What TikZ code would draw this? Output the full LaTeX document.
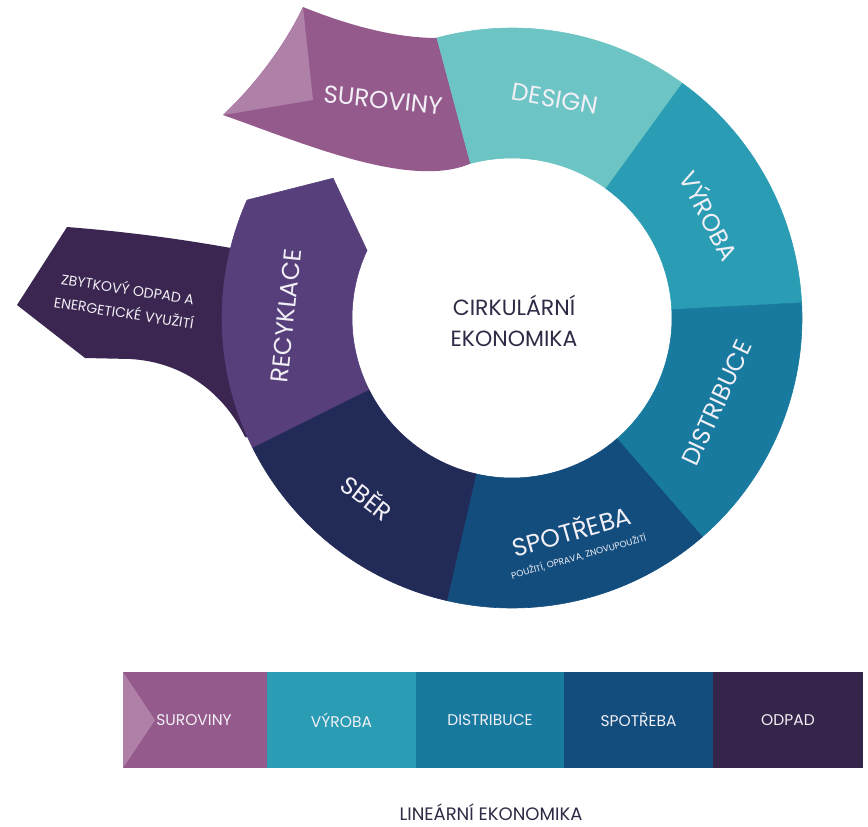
\documentclass[tikz,border=0pt]{standalone}
\usepackage{fontspec}
\setmainfont{Poppins}
\definecolor{csur}{HTML}{955A8C}
\definecolor{csurl}{HTML}{AF80A8}
\definecolor{cdes}{HTML}{6CC4C4}
\definecolor{cvyr}{HTML}{2A9DB4}
\definecolor{cdis}{HTML}{187A9F}
\definecolor{cspo}{HTML}{124D7E}
\definecolor{csbe}{HTML}{222B57}
\definecolor{crec}{HTML}{563F7B}
\definecolor{czb}{HTML}{3A2650}
\definecolor{codp}{HTML}{36254A}
\definecolor{ctxt}{HTML}{2D2B45}
\definecolor{cwh}{HTML}{F2F0F6}
\newcommand\ringseg[3]{\filldraw[#1,line width=0.6pt] (#2:290pt) arc[start angle=#2,end angle=#3,radius=290pt] -- (#3:160pt) arc[start angle=#3,end angle=#2,radius=160pt] -- cycle;}
\begin{document}
\begin{tikzpicture}[x=1pt,y=1pt,
  lbl/.style={text=cwh,font=\fontsize{24.5}{26}\selectfont,inner sep=0pt},
  small/.style={text=cwh,font=\fontsize{14}{24}\selectfont,inner sep=0pt,align=center},
  barseg/.style={minimum width=#1,minimum height=96pt,inner sep=0pt,text=cwh,font=\fontsize{15.5}{17}\selectfont},
  title/.style={text=ctxt,inner sep=0pt,align=center}]
\useasboundingbox (0,0) rectangle (868,-827);
% residual waste arrow (behind ring)
\fill[czb] (17,-305) -- (67,-227) .. controls (130,-232) and (180,-239) .. (231,-248) -- (300,-252) -- (300,-445) -- (245,-437) .. controls (225,-395) and (185,-362) .. (130,-359) -- (85,-358) -- cycle;
% raw materials ribbon
\fill[csur] (303,-7) .. controls (340,-22) and (390,-38) .. (437,-38) -- (470.6,-163.5) .. controls (410,-190) and (300,-142) .. (223,-115) .. controls (255,-85) and (285,-45) .. (303,-7) -- cycle;
\fill[csurl] (303,-7) -- (313,-100) -- (223,-115) .. controls (255,-85) and (285,-45) .. (303,-7) -- cycle;
% ring
\begin{scope}[shift={(512,-318)}]
\ringseg{cdes}{105}{54}
\ringseg{cvyr}{54}{3}
\ringseg{cdis}{3}{-49}
\ringseg{cspo}{-49}{-103}
\ringseg{csbe}{-103}{-153.5}
\filldraw[crec,line width=0.6pt] (-153.5:290pt) arc[start angle=-153.5,end angle=-204,radius=290pt] -- (-218:227pt) -- (-205:160pt) arc[start angle=-205,end angle=-153.5,radius=160pt] -- cycle;
\end{scope}
% ring labels
\node[lbl,rotate=-6] (sur) at (383,-100) {SUROVINY};
\node[lbl,rotate=-10] (des) at (555,-99) {DESIGN};
\node[lbl,rotate=-62] (vyr) at (711,-215) {VÝROBA};
\node[lbl,rotate=65] (dis) at (717,-403) {DISTRIBUCE};
\node[lbl,rotate=16,align=center,font=\fontsize{25}{20}\selectfont] (spo) at (574,-540) {SPOTŘEBA\\{\fontsize{9}{10}\selectfont POUŽITÍ, OPRAVA, ZNOVUPOUŽITÍ}};
\node[lbl,rotate=-38] (sbe) at (368,-497) {SBĚR};
\node[lbl,rotate=84] (rec) at (286,-316) {RECYKLACE};
\node[small,rotate=-9] (zb) at (126,-300) {ZBYTKOVÝ ODPAD A\\ENERGETICKÉ VYUŽITÍ};
% centre
\node[title,font=\fontsize{22}{31}\selectfont] (c) at (514,-321) {CIRKULÁRNÍ\\EKONOMIKA};
% linear economy bar
\node[barseg=144pt,fill=csur] (b1) at (195,-720) {};
\fill[csurl] (123,-672) -- (155,-720) -- (123,-768) -- cycle;
\node[barseg=149pt,fill=cvyr] (b2) at (341.5,-720) {VÝROBA};
\node[barseg=148pt,fill=cdis] (b3) at (490,-720) {DISTRIBUCE};
\node[barseg=149pt,fill=cspo] (b4) at (638.5,-720) {SPOTŘEBA};
\node[barseg=150pt,fill=codp] (b5) at (788,-720) {ODPAD};
\node[text=cwh,inner sep=0pt,font=\fontsize{15.5}{17}\selectfont] (b1t) at (194,-720) {SUROVINY};
\node[title,font=\fontsize{18}{20}\selectfont] (lin) at (491,-812) {LINEÁRNÍ EKONOMIKA};
\end{tikzpicture}
\end{document}
